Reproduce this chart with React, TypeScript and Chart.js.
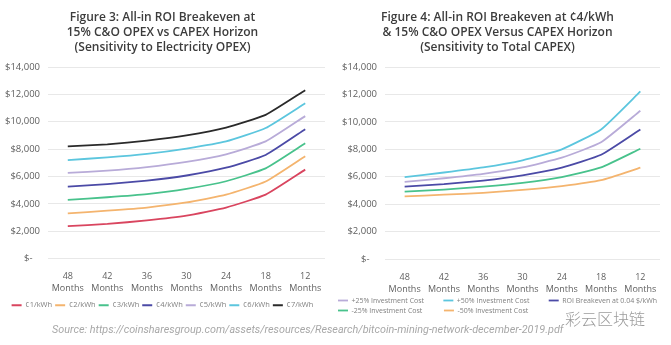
import React, { useEffect, useRef } from "react";
import { Chart, registerables } from "chart.js";

Chart.register(...registerables);

// ---- data ----
const horizons = ["48", "42", "36", "30", "24", "18", "12"];
const horizonUnit = "Months";

// Figure 3: sensitivity to electricity OPEX
const leftSeriesNames = ["¢1/kWh", "¢2/kWh", "¢3/kWh", "¢4/kWh", "¢5/kWh", "¢6/kWh", "¢7/kWh"];
const c1 = [2370, 2530, 2790, 3140, 3730, 4670, 6500];
const c2 = [3300, 3500, 3730, 4100, 4670, 5630, 7480];
const c3 = [4290, 4480, 4710, 5090, 5650, 6590, 8420];
const c4 = [5250, 5440, 5700, 6070, 6640, 7570, 9450];
const c5 = [6260, 6425, 6680, 7060, 7620, 8560, 10410];
const c6 = [7200, 7390, 7650, 8040, 8560, 9540, 11350];
const c7 = [8200, 8350, 8620, 9000, 9570, 10500, 12300];

// Figure 4: sensitivity to total CAPEX
const rightSeriesNames = [
  "+25% Investment Cost",
  "+50% Investment Cost",
  "ROI Breakeven at 0.04 $/kWh",
  "-25% Investment Cost",
  "-50% Investment Cost",
];
const plus25 = [5630, 5890, 6210, 6680, 7390, 8510, 10810];
const plus50 = [5980, 6310, 6680, 7200, 8000, 9450, 12220];
const base04 = [5280, 5460, 5720, 6100, 6660, 7600, 9450];
const minus25 = [4920, 5065, 5280, 5560, 5980, 6680, 8040];
const minus50 = [4570, 4690, 4830, 5040, 5320, 5750, 6660];

const yTicks = { min: 0, max: 14000, step: 2000 };

const leftTitle = [
  "Figure 3: All-in ROI Breakeven at",
  "15% C&O OPEX vs CAPEX Horizon",
  "(Sensitivity to Electricity OPEX)",
];
const rightTitle = [
  "Figure 4: All-in ROI Breakeven at ¢4/kWh",
  "& 15% C&O OPEX Versus CAPEX Horizon",
  "(Sensitivity to Total CAPEX)",
];
const sourceText =
  "Source: https://coinsharesgroup.com/assets/resources/Research/bitcoin-mining-network-december-2019.pdf";
const watermark = "彩云区块链";

// ---- styles ----
const leftColors = ["#d9455f", "#f4b46e", "#48c28c", "#4b4aa6", "#b8abd8", "#5cc6de", "#2a2a2a"];
const rightColors = ["#b8abd8", "#5cc6de", "#4b4aa6", "#48c28c", "#f4b46e"];

const FONT = "'Open Sans', 'DejaVu Sans', sans-serif";

interface Opts {
  title: string[];
  names: string[];
  series: number[][];
  colors: string[];
  yWidth: number;
  padRight: number;
  legendFont: number;
  legendPadding: number;
  legendAlign: string;
  columnWidth: number; // 0 = natural flow
  columns: number;
  xShrink: number;
}

function makeConfig(o: Opts): any {
  const boxW = 10;
  return {
    type: "line",
    data: {
      labels: horizons.map((h) => [h, horizonUnit]),
      datasets: o.series.map((d, i) => ({
        label: o.names[i],
        data: d,
        borderColor: o.colors[i],
        backgroundColor: o.colors[i],
        borderWidth: 1.8,
        pointRadius: 0,
        tension: 0.15,
        fill: false,
      })),
    },
    options: {
      responsive: false,
      animation: false,
      layout: { padding: { top: 6, left: 0, right: o.padRight, bottom: 0 } },
      plugins: {
        title: {
          display: true,
          text: o.title,
          color: "#3c3c3c",
          font: { family: FONT, size: 12, weight: "600", lineHeight: 1.25 },
          padding: { top: 4.5, bottom: 11.5 },
        },
        legend: {
          display: true,
          position: "bottom",
          align: o.legendAlign,
          labels: {
            color: "#808080",
            font: { family: FONT, size: o.legendFont },
            usePointStyle: true,
            pointStyle: "line",
            pointStyleWidth: boxW,
            boxHeight: o.legendFont,
            padding: o.legendPadding,
            generateLabels: (chart: any) => {
              const items = (Chart.defaults as any).plugins.legend.labels.generateLabels(chart);
              if (!o.columnWidth) return items;
              const ctx = chart.ctx;
              ctx.save();
              ctx.font = `normal ${o.legendFont}px ${FONT}`;
              const target = o.columnWidth - boxW - o.legendFont / 2 - o.legendPadding;
              items.forEach((it: any, i: number) => {
                const col = i % o.columns;
                const isLastInRow = col === o.columns - 1 || i === items.length - 1;
                if (isLastInRow) return;
                let guard = 0;
                while (ctx.measureText(it.text + "\u2009").width <= target && guard < 80) {
                  it.text += "\u2009";
                  guard++;
                }
              });
              ctx.restore();
              return items;
            },
          },
        },
        tooltip: { enabled: false },
      },
      scales: {
        x: {
          offset: true,
          grid: { display: false },
          border: { display: false },
          afterFit: (s: any) => {
            s.height -= o.xShrink;
          },
          ticks: {
            color: "#5f5f5f",
            font: { family: FONT, size: 9, lineHeight: 1.33 },
            padding: 4,
            maxRotation: 0,
            autoSkip: false,
          },
        },
        y: {
          min: yTicks.min,
          max: yTicks.max,
          afterFit: (s: any) => {
            s.width = o.yWidth;
          },
          grid: { color: "#e8e8e8", drawTicks: false, lineWidth: 1 },
          border: { display: false },
          ticks: {
            stepSize: yTicks.step,
            color: "#5f5f5f",
            font: { family: FONT, size: 9.5 },
            padding: 8,
            callback: (v: any) => (Number(v) === 0 ? "$-   " : "$" + Number(v).toLocaleString("en-US")),
          },
        },
      },
    },
  };
}

function ChartCanvas({ config, width, height }: { config: any; width: number; height: number }) {
  const ref = useRef<HTMLCanvasElement | null>(null);
  useEffect(() => {
    if (!ref.current) return;
    const chart = new Chart(ref.current, config);
    return () => chart.destroy();
  }, [config]);
  return <canvas ref={ref} width={width} height={height} style={{ display: "block" }} />;
}

const leftConfig = makeConfig({
  title: leftTitle,
  names: leftSeriesNames,
  series: [c1, c2, c3, c4, c5, c6, c7],
  colors: leftColors,
  yWidth: 48,
  padRight: 10,
  legendFont: 7.5,
  legendPadding: 3,
  legendAlign: "center",
  columnWidth: 0,
  columns: 7,
  xShrink: 0,
});
const rightConfig = makeConfig({
  title: rightTitle,
  names: rightSeriesNames,
  series: [plus25, plus50, base04, minus25, minus50],
  colors: rightColors,
  yWidth: 50,
  padRight: 11,
  legendFont: 7,
  legendPadding: 3,
  legendAlign: "start",
  columnWidth: 106,
  columns: 3,
  xShrink: 5,
});

export default function App() {
  return (
    <div
      style={{
        position: "absolute",
        left: 0,
        top: 0,
        width: 671,
        height: 345,
        background: "#ffffff",
        overflow: "hidden",
      }}
    >
      <div style={{ position: "absolute", left: 0, top: 0 }}>
        <ChartCanvas config={leftConfig} width={335} height={319} />
      </div>
      <div style={{ position: "absolute", left: 335, top: 0 }}>
        <ChartCanvas config={rightConfig} width={336} height={324} />
      </div>
      <div
        style={{
          position: "absolute",
          left: 565,
          top: 308,
          fontFamily: "'Noto Sans CJK SC', sans-serif",
          fontWeight: 300,
          fontSize: 16,
          color: "#8a8a8a",
          whiteSpace: "nowrap",
          lineHeight: "20px",
          opacity: 0.85,
        }}
      >
        {watermark}
      </div>
      <div
        style={{
          position: "absolute",
          left: 52,
          top: 323,
          fontFamily: "Roboto, sans-serif",
          fontStyle: "italic",
          fontSize: 10.8,
          color: "#a8a8a8",
          whiteSpace: "nowrap",
          lineHeight: "14px",
        }}
      >
        {sourceText}
      </div>
    </div>
  );
}
